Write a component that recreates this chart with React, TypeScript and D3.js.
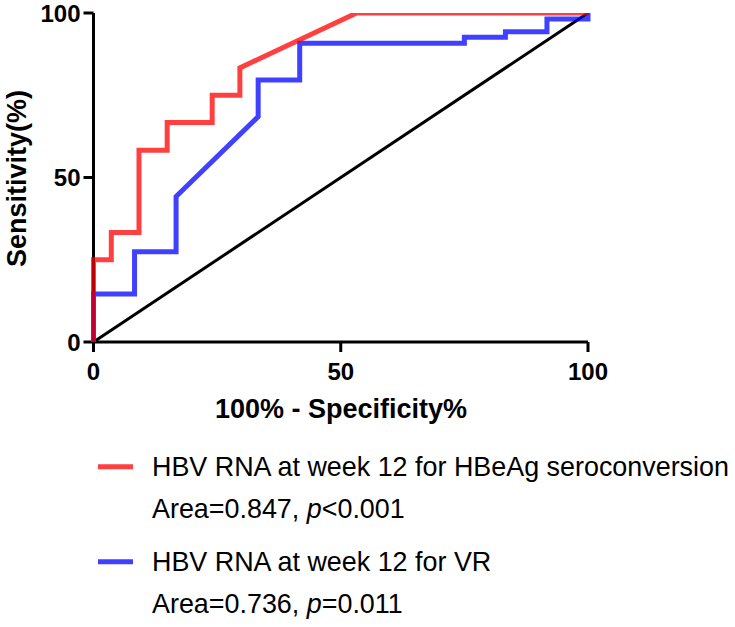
import React from "react";
import * as d3 from "d3";

const xTicks = [0, 50, 100];
const yTicks = [0, 50, 100];

// ROC curve for HBeAg seroconversion (100% - specificity, sensitivity)
const redX = [0, 0, 3.6, 3.6, 9.2, 9.2, 14.9, 14.9, 24.0, 24.0, 29.6, 29.6, 53.2, 100];
const redY = [0, 25, 25, 33.3, 33.3, 58.3, 58.3, 66.7, 66.7, 75, 75, 83.3, 100, 100];

// ROC curve for VR
const blueX = [0, 0, 8.3, 8.3, 16.7, 16.7, 33.3, 33.3, 41.7, 41.7, 75, 75, 83.3, 83.3, 91.7, 91.7, 100, 100];
const blueY = [0, 14.6, 14.6, 27.4, 27.4, 44.2, 68.5, 79.6, 79.6, 90.8, 90.8, 92.6, 92.6, 94.3, 94.3, 98.2, 98.2, 100];

const refX = [0, 100];
const refY = [0, 100];

const legendLabels = [
  "HBV RNA at week 12 for HBeAg seroconversion",
  "HBV RNA at week 12 for VR",
];
const areaLabels = ["0.847", "0.736"];
const pLabels = ["<0.001", "=0.011"];
const seriesColors = ["#ff0000", "#0000ff"];

export default function App() {
  const x = d3.scaleLinear().domain([0, 100]).range([93.5, 588]);
  const y = d3.scaleLinear().domain([0, 100]).range([342, 13]);
  const line = d3
    .line<[number, number]>()
    .x((d) => x(d[0]))
    .y((d) => y(d[1]));
  const zip = (a: number[], b: number[]) => a.map((v, i) => [v, b[i]] as [number, number]);

  const font = "'Liberation Sans', Arial, Helvetica, sans-serif";
  const legendY = [466.7, 561.7];

  return (
    <svg
      width={735}
      height={627}
      style={{ position: "absolute", left: 0, top: 0, background: "#fff" }}
      fontFamily={font}
    >
      <defs>
        <clipPath id="plotclip">
          <rect x={0} y={y(100)} width={735} height={400} />
        </clipPath>
      </defs>

      {/* axes */}
      <line x1={x(0)} x2={x(100)} y1={y(0)} y2={y(0)} stroke="#000" strokeWidth={3} />
      <line x1={x(0)} x2={x(0)} y1={y(0)} y2={y(100)} stroke="#000" strokeWidth={3} />
      {xTicks.map((t) => (
        <g key={"xt" + t}>
          <line x1={x(t)} x2={x(t)} y1={y(0)} y2={y(0) + 10} stroke="#000" strokeWidth={3} />
          <text x={x(t)} y={y(0) + 37.5} textAnchor="middle" fontSize={24} fontWeight="bold">
            {t}
          </text>
        </g>
      ))}
      {yTicks.map((t) => (
        <g key={"yt" + t}>
          <line x1={x(0) - 10} x2={x(0)} y1={y(t)} y2={y(t)} stroke="#000" strokeWidth={3} />
          <text x={80.5} y={y(t) + 8.6} textAnchor="end" fontSize={24} fontWeight="bold">
            {t}
          </text>
        </g>
      ))}

      <text
        transform={`translate(25.5,${(y(0) + y(100)) / 2 + 1}) rotate(-90)`}
        textAnchor="middle"
        fontSize={27}
        fontWeight="bold"
      >
        Sensitivity(%)
      </text>
      <text x={341} y={417.5} textAnchor="middle" fontSize={27} fontWeight="bold">
        100% - Specificity%
      </text>

      {/* curves */}
      <g clipPath="url(#plotclip)">
        <path d={line(zip(refX, refY)) || ""} fill="none" stroke="#000" strokeWidth={3} />
        <path
          d={line(zip(blueX, blueY)) || ""}
          fill="none"
          stroke={seriesColors[1]}
          strokeOpacity={0.75}
          strokeWidth={5}
          strokeLinejoin="miter"
        />
        <path
          d={line(zip(redX, redY)) || ""}
          fill="none"
          stroke={seriesColors[0]}
          strokeOpacity={0.75}
          strokeWidth={5}
          strokeLinejoin="miter"
        />
      </g>

      {/* legend */}
      {legendLabels.map((lab, i) => (
        <g key={"lg" + i}>
          <line
            x1={98}
            x2={133}
            y1={legendY[i]}
            y2={legendY[i]}
            stroke={seriesColors[i]}
            strokeOpacity={0.75}
            strokeWidth={5}
          />
          <text x={152} y={legendY[i] + 9.5} fontSize={26.9}>
            {lab}
          </text>
          <text x={152} y={legendY[i] + 51} fontSize={26.9}>
            {"Area=" + areaLabels[i] + ", "}
            <tspan fontStyle="italic">p</tspan>
            {pLabels[i]}
          </text>
        </g>
      ))}
    </svg>
  );
}
